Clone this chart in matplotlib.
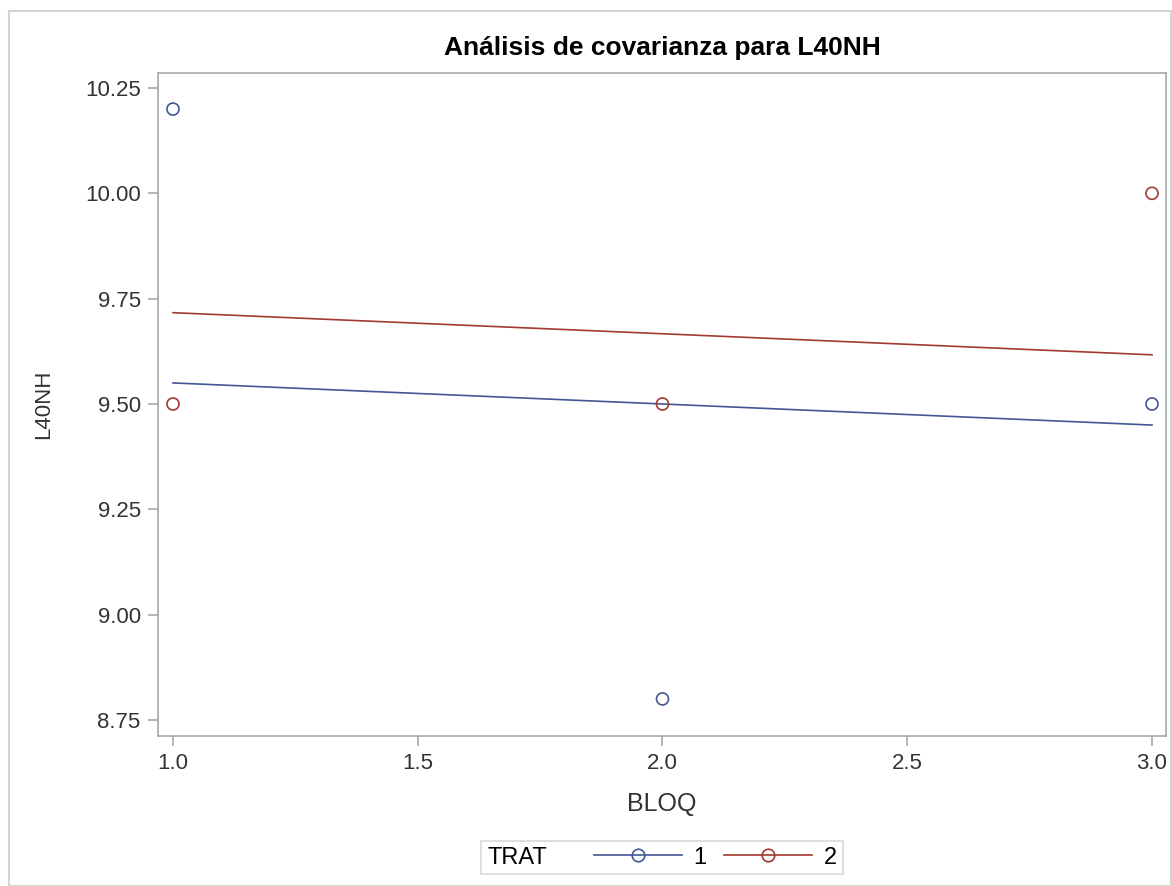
import numpy as np
import matplotlib
matplotlib.use('Agg')
import matplotlib.pyplot as plt
from matplotlib.lines import Line2D
from matplotlib.patches import Rectangle
from matplotlib.offsetbox import HPacker

plt.rcParams['font.family'] = ['Liberation Sans', 'DejaVu Sans']

bloq = [1, 2, 3]
trat1_obs = [10.2, 8.8, 9.5]
trat2_obs = [9.5, 9.5, 10.0]
fit_x = [1, 3]
trat1_fit = [9.55, 9.45]
trat2_fit = [9.7167, 9.6167]
yticks = [8.75, 9.00, 9.25, 9.50, 9.75, 10.00, 10.25]
xticks = [1.0, 1.5, 2.0, 2.5, 3.0]

blue = '#445694'
red = '#A23A2E'
axcol = '#A5A9AD'
txt = '#333333'

fig = plt.figure(figsize=(11.72, 8.86), dpi=100)
ax = fig.add_axes([158 / 1172, 1 - 736 / 886, (1166 - 158) / 1172, (736 - 73) / 886])

ax.plot(fit_x, trat1_fit, color=blue, lw=1.2)
ax.plot(fit_x, trat2_fit, color=red, lw=1.2)
ax.scatter(bloq, trat1_obs, s=75, facecolors='none', edgecolors=blue, linewidths=1.2, zorder=3)
ax.scatter(bloq, trat2_obs, s=75, facecolors='none', edgecolors=red, linewidths=1.2, zorder=3)

ax.set_xlim(0.9694, 3.0286)
ax.set_ylim(8.712, 10.2856)
ax.set_xticks(xticks)
ax.set_xticklabels(['%.1f' % v for v in xticks])
ax.set_yticks(yticks)
ax.set_yticklabels(['%.2f' % v for v in yticks])
for s in ax.spines.values():
    s.set_color(axcol)
    s.set_linewidth(1.2)
ax.tick_params(direction='out', color=axcol, width=1.2, length=7.5, labelsize=16,
               labelcolor=txt)
ax.tick_params(axis='x', pad=5)
ax.tick_params(axis='y', pad=5)

ax.set_title('Análisis de covarianza para L40NH', fontsize=19, fontweight='bold', pad=13)
ax.set_xlabel('BLOQ', fontsize=18, color=txt, labelpad=13)
ax.set_ylabel('L40NH', fontsize=16, color=txt, labelpad=22)

handles = [Line2D([], [], color=blue, marker='o', mfc='none', mec=blue, ms=9, mew=1.2, lw=1.2),
           Line2D([], [], color=red, marker='o', mfc='none', mec=red, ms=9, mew=1.2, lw=1.2)]
leg = fig.legend(handles, ['1', '2'], title='TRAT', loc='center',
                 bbox_to_anchor=(662 / 1172, 1 - 857.5 / 886), ncol=2, fontsize=17,
                 title_fontsize=17, frameon=True, fancybox=False, handlelength=3.7,
                 borderpad=0.25, columnspacing=0.75, handletextpad=0.5)
leg.get_frame().set_edgecolor('#D0D0D0')
leg.get_frame().set_linewidth(1.2)
# title inline with the entries, like SAS
leg._legend_box._children = [HPacker(pad=0, sep=34, align='center',
                                     children=[leg._legend_title_box, leg._legend_handle_box])]

fig.patches.append(Rectangle((9 / 1172, 0), (1171 - 9) / 1172, (886 - 11) / 886,
                             transform=fig.transFigure, fill=False, ec='#D3D3D3', lw=1.5))

fig.savefig('out.png', dpi=100)
